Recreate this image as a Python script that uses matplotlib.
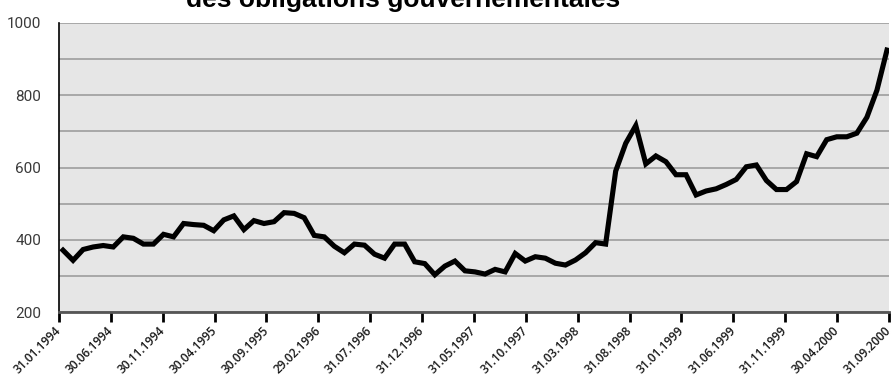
import numpy as np
import matplotlib
matplotlib.use("Agg")
import matplotlib.pyplot as plt

values = [371, 343, 373, 380, 384, 380, 408, 404, 388, 388,
          415, 408, 445, 442, 440, 425, 455, 466, 428, 453,
          445, 450, 475, 473, 461, 412, 408, 382, 364, 388,
          385, 360, 349, 388, 388, 339, 334, 303, 327, 341,
          314, 311, 305, 318, 311, 362, 341, 353, 349, 335,
          330, 344, 364, 392, 388, 590, 667, 716, 610, 632,
          616, 580, 580, 524, 535, 541, 553, 567, 602, 607,
          564, 539, 539, 561, 638, 630, 677, 685, 685, 695,
          739, 814, 925]

tick_labels = ["31.01.1994", "30.06.1994", "30.11.1994", "30.04.1995",
               "30.09.1995", "29.02.1996", "31.07.1996", "31.12.1996",
               "31.05.1997", "31.10.1997", "31.03.1998", "31.08.1998",
               "31.01.1999", "31.06.1999", "31.11.1999", "30.04.2000",
               "31.09.2000"]

y_labels = [200, 400, 600, 800, 1000]
title_line = "des obligations gouvernementales"

fig = plt.figure(figsize=(8.95, 3.83), dpi=100)
ax = fig.add_axes([59 / 895, 71 / 383, 830 / 895, 289 / 383])
ax.set_facecolor("#e6e6e6")

x = np.arange(len(values))
ax.plot(x, values, color="black", lw=3.7, solid_joinstyle="miter", zorder=3)

x0, x1 = -0.4, len(values) - 1 + 0.2
ax.set_xlim(x0, x1)
ax.set_ylim(200, 1000)

# grille horizontale tous les 100
for g in range(200, 1001, 100):
    ax.axhline(g, color="#a8a8a8", lw=1.4, zorder=1)

ax.set_yticks(y_labels)
ax.set_yticklabels([str(v) for v in y_labels], family="Roboto", fontsize=11, color="#3a3a3a")
ax.tick_params(axis="y", length=0, pad=13)

ax.set_xticks(np.linspace(x0, x1, len(tick_labels)))
ax.set_xticklabels(tick_labels, rotation=45, ha="right", va="center", rotation_mode="anchor",
                   family="Open Sans", fontweight="semibold", fontsize=8.6, color="#1a1a1a")
ax.tick_params(axis="x", length=7, width=2, color="black", direction="out", pad=5)

for s in ["top", "right"]:
    ax.spines[s].set_visible(False)
ax.spines["left"].set_color("black")
ax.spines["left"].set_linewidth(1.2)
ax.spines["bottom"].set_color("#555555")
ax.spines["bottom"].set_linewidth(2)
ax.spines["bottom"].set_zorder(4)

fig.text(403 / 895, 1 - 7 / 383, title_line, ha="center", va="baseline",
         family="Liberation Sans", fontweight="bold", fontsize=19, color="black")

fig.savefig("out.png", dpi=100)
